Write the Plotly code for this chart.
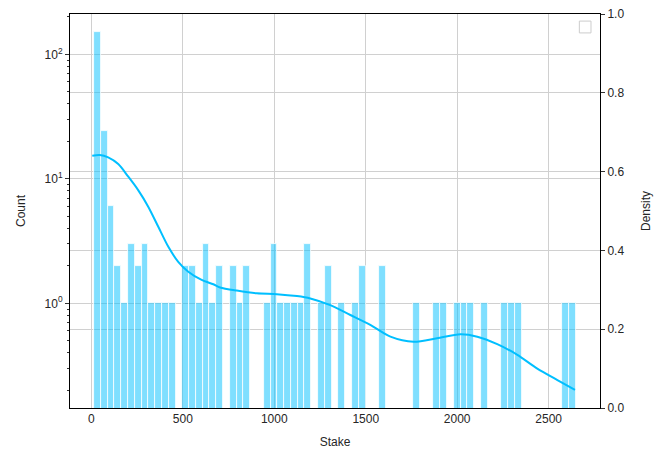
import plotly.graph_objects as go

# ---- data ----
bin_start = 15.0
bin_width = 37.1
counts = [152, 24, 6, 2, 1, 3, 2, 3, 1, 1, 1, 1, 0, 2, 2, 1, 3, 1, 2, 0,
          2, 1, 2, 0, 0, 1, 3, 1, 1, 1, 1, 3, 0, 1, 2, 0, 1, 0, 1, 2,
          0, 0, 2, 0, 0, 0, 0, 1, 0, 0, 1, 1, 0, 1, 1, 1, 0, 1, 0, 0,
          1, 1, 1, 0, 0, 0, 0, 0, 0, 1, 1]

kde_x = [5, 46, 92, 147, 202, 256, 311, 366, 421, 475, 530, 603, 667, 704,
         795, 905, 1014, 1124, 1197, 1306, 1416, 1525, 1635, 1762, 1890, 2018,
         2110, 2219, 2329, 2438, 2548, 2644]
kde_density = [0.640, 0.642, 0.636, 0.619, 0.587, 0.553, 0.511, 0.460, 0.409,
               0.371, 0.346, 0.325, 0.314, 0.306, 0.298, 0.291, 0.289, 0.284,
               0.278, 0.261, 0.236, 0.211, 0.181, 0.168, 0.177, 0.187, 0.181,
               0.162, 0.135, 0.100, 0.071, 0.046]

count_tickvals = [1, 10, 100]
count_ticktext = ["10<sup>0</sup>", "10<sup>1</sup>", "10<sup>2</sup>"]
density_ticks = [0.0, 0.2, 0.4, 0.6, 0.8, 1.0]
x_ticks = [0, 500, 1000, 1500, 2000, 2500]

# ---- build ----
centers = [bin_start + bin_width * (i + 0.5) for i in range(len(counts))]
bx = [c for c, n in zip(centers, counts) if n > 0]
by = [n for n in counts if n > 0]

minor_vals = []
for dec in [0.1, 1, 10, 100]:
    for m in range(2, 10):
        minor_vals.append(dec * m)

FONT = "Liberation Sans, Arial, sans-serif"
GRID = "#d0d0d0"

fig = go.Figure()
fig.add_trace(go.Bar(
    x=bx, y=by, width=bin_width,
    marker=dict(color="rgba(0,191,255,0.5)", line=dict(color="white", width=0.8)),
    showlegend=False, yaxis="y"))
fig.add_trace(go.Scatter(
    x=kde_x, y=kde_density, mode="lines",
    line=dict(color="#00BFFF", width=2, shape="spline", smoothing=0.8),
    showlegend=False, yaxis="y2"))

data_min = bin_start
data_max = bin_start + bin_width * len(counts)
pad = 0.05 * (data_max - data_min)

# page body has an 8px default margin, so the figure is sized to compensate
fig.update_layout(
    width=654, height=448,
    margin=dict(l=62, r=62, t=6, b=48),
    plot_bgcolor="white", paper_bgcolor="white",
    font=dict(family=FONT, size=12, color="#262626"),
    bargap=0,
    xaxis=dict(range=[data_min - pad, data_max + pad], tickvals=x_ticks,
               showgrid=True, gridcolor=GRID, gridwidth=1, zeroline=False,
               showline=True, linecolor="black", linewidth=1, mirror=True,
               ticks="", automargin=False,
               title=dict(text="Stake", standoff=12, font=dict(size=12))),
    yaxis=dict(type="log", range=[-0.841, 2.324], tickvals=count_tickvals,
               ticktext=count_ticktext, showgrid=True, gridcolor=GRID, gridwidth=1,
               zeroline=False, showline=True, linecolor="black", linewidth=1,
               ticks="outside", ticklen=4, tickcolor="#333", automargin=False,
               ticklabeloverflow="allow",
               minor=dict(tickvals=minor_vals, ticks="outside", ticklen=2, tickcolor="#333",
                          showgrid=False),
               title=dict(text="Count", standoff=16, font=dict(size=12))),
    yaxis2=dict(overlaying="y", side="right", range=[0, 1], tickvals=density_ticks,
                tickformat=".1f", showgrid=True, gridcolor=GRID, gridwidth=1,
                zeroline=False, showline=True, linecolor="black", linewidth=1,
                ticks="outside", ticklen=4, tickcolor="#333", automargin=False,
                ticklabeloverflow="allow",
                title=dict(text="Density", standoff=18, font=dict(size=12))),
    shapes=[dict(type="rect", xref="paper", yref="paper",
                 x0=0.961, x1=0.983, y0=0.952, y1=0.982,
                 line=dict(color="#cccccc", width=1), fillcolor="white")],
)

fig.write_html("out.html")
